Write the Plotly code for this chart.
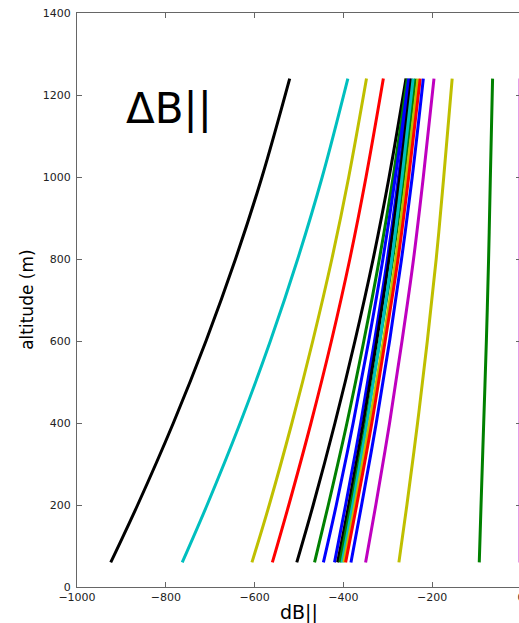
import plotly.graph_objects as go

# Altitudes (m) at which each profile is sampled
altitude = [60, 200, 400, 600, 800, 1000, 1240]

# dB|| profiles (one list per curve), values at the altitudes above
k1 = [-924, -863.5, -783, -709.5, -643, -583.4, -521]
c1 = [-763, -707, -632.5, -564.5, -502.9, -447.7, -390]
y1 = [-606, -567, -516, -469, -426, -388, -348]
r1 = [-560, -523, -473, -427, -385.5, -349, -310]
k2 = [-505, -468, -419, -374, -333, -297, -259]
g1 = [-465, -434, -392, -354, -319, -288, -256]
b1 = [-445, -416, -378, -343, -311, -283, -253]
b2 = [-420, -395, -361, -330, -301, -276, -250]
k3 = [-413, -388, -355, -325, -297, -273, -247]
g2 = [-408, -383, -349, -318, -289, -264, -238]
c2 = [-403, -379, -347, -318, -291, -268, -243]
y2 = [-399, -374, -341, -310, -282, -258, -232]
r2 = [-395, -370, -336, -306, -277, -253, -227]
b3 = [-383, -359, -326, -296, -269, -245, -220]
m1 = [-350, -327, -296, -268, -242, -220, -196]
y3 = [-275, -257, -233, -211, -191, -174, -155]
g3 = [-94, -90, -84, -78, -73, -69, -64]
m2 = [-2, -2, -2, -2, -2, -2, -2]

x_ticks = [-1000, -800, -600, -400, -200, 0]
y_ticks = [0, 200, 400, 600, 800, 1000, 1200, 1400]

BLUE, GREEN, RED, CYAN = "#0000ff", "#008000", "#ff0000", "#00bfbf"
MAGENTA, YELLOW, BLACK = "#bf00bf", "#bfbf00", "#000000"

curves = [
    (k1, BLACK), (c1, CYAN), (y1, YELLOW), (r1, RED), (k2, BLACK),
    (g1, GREEN), (b1, BLUE), (b2, BLUE), (k3, BLACK), (g2, GREEN),
    (c2, CYAN), (y2, YELLOW), (r2, RED), (b3, BLUE), (m1, MAGENTA),
    (y3, YELLOW), (g3, GREEN), (m2, MAGENTA),
]

fig = go.Figure()
for xs, col in curves:
    fig.add_trace(go.Scatter(
        x=xs, y=altitude, mode="lines",
        line=dict(color=col, width=3, shape="spline", smoothing=1.0),
        showlegend=False, hoverinfo="skip",
    ))

tick_font = dict(family="DejaVu Sans", size=11, color="#222222")
axis_common = dict(
    showgrid=False, zeroline=False, showline=True, linecolor="#666666",
    linewidth=1, mirror="ticks", ticks="inside", ticklen=5,
    tickcolor="#666666", tickfont=tick_font, automargin=False,
)

fig.update_xaxes(
    range=[-1000, 0], tickvals=x_ticks,
    ticktext=[f"\u2212{abs(v)}" if v < 0 else str(v) for v in x_ticks],
    **axis_common,
)
fig.update_yaxes(
    range=[0, 1400], tickvals=y_ticks, ticktext=[str(v) for v in y_ticks],
    ticklabelstandoff=3,
    **axis_common,
)

# Axis titles
fig.add_annotation(
    x=0.5, y=-0.045, xref="paper", yref="paper", text="dB||", showarrow=False,
    xanchor="center", yanchor="middle",
    font=dict(family="DejaVu Sans", size=19, color="#000000"),
)
fig.add_annotation(
    x=-0.113, y=0.5, xref="paper", yref="paper", text="altitude (m)", showarrow=False,
    xanchor="center", yanchor="middle", textangle=-90,
    font=dict(family="DejaVu Sans", size=17, color="#000000"),
)

# Panel label
fig.add_annotation(
    x=-895, y=1168, xref="x", yref="y", text="\u0394B||", showarrow=False,
    xanchor="left", yanchor="middle",
    font=dict(family="DejaVu Sans", size=42, color="#000000"),
)

fig.update_layout(
    width=525, height=623,
    margin=dict(l=77, r=4, t=13, b=36),
    paper_bgcolor="white", plot_bgcolor="white",
)

fig.write_html("out.html", post_script="document.body.style.overflow='hidden';")
